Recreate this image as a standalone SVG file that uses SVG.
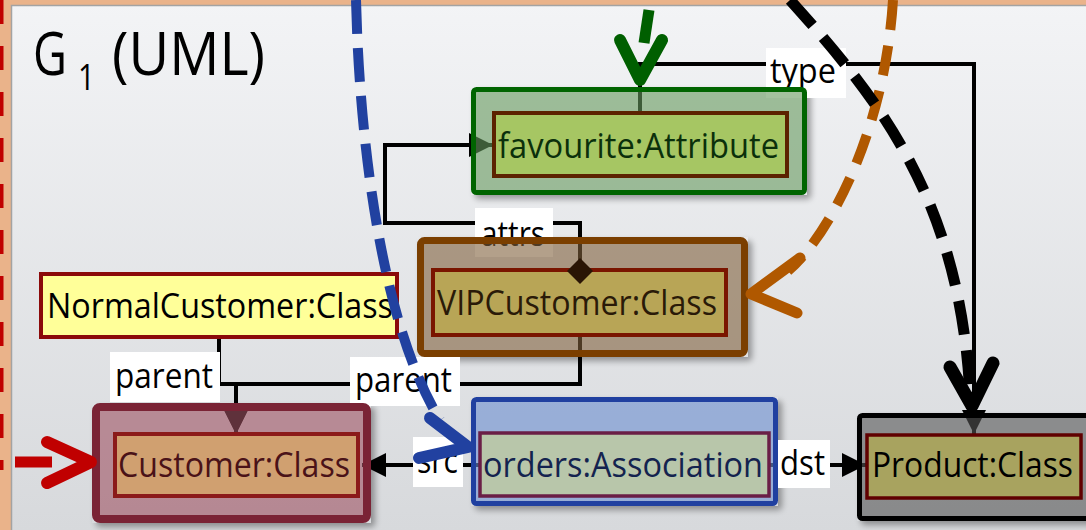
<svg xmlns="http://www.w3.org/2000/svg" width="1086" height="530" viewBox="0 0 1086 530">
<defs>
<linearGradient id="bg" x1="0" y1="0" x2="0" y2="530" gradientUnits="userSpaceOnUse">
<stop offset="0" stop-color="#f3f4f6"/>
<stop offset="1" stop-color="#d7d9dc"/>
</linearGradient>
<filter id="blur" x="-20%" y="-20%" width="140%" height="140%"><feGaussianBlur stdDeviation="3"/></filter>
<marker id="tri" markerUnits="userSpaceOnUse" markerWidth="24" markerHeight="24" viewBox="0 0 24 24" refX="24" refY="12" orient="auto">
<path d="M0,0 L24,12 L0,24 z" fill="#000"/>
</marker>
<clipPath id="cFav"><path clip-rule="evenodd" d="M0,0H1100V540H0Z M471,87H807V195H471Z"/></clipPath>
<clipPath id="cVip"><path clip-rule="evenodd" d="M0,0H1100V540H0Z M417,237H748V357H417Z"/></clipPath>
<clipPath id="cCus"><path clip-rule="evenodd" d="M0,0H1100V540H0Z M92,403H371V523H92Z"/></clipPath>
<clipPath id="cOrd"><path clip-rule="evenodd" d="M0,0H1100V540H0Z M471,397H778V506H471Z"/></clipPath>
<clipPath id="cPro"><path clip-rule="evenodd" d="M0,0H1100V540H0Z M857,413H1100V521H857Z"/></clipPath>
<style>
.t{font-family:"Open Sans","Liberation Sans",sans-serif;font-size:34px;}
.big{font-family:"Open Sans","Liberation Sans",sans-serif;font-size:60px;}
.sub{font-size:36px;}
.conn{fill:none;stroke:#000;stroke-width:4;}
.lbl{fill:#fff;}
.sh{fill:#000;opacity:0.35;filter:url(#blur);}
.map{fill:none;stroke-linecap:butt;}
.chev{fill:none;stroke-linecap:round;stroke-linejoin:round;}
</style>
</defs>

<g id="background">
<rect width="1086" height="530" fill="#eab38a"/>
<rect x="11.5" y="5.5" width="1090" height="540" fill="url(#bg)" stroke="#a3a3a3" stroke-width="1.5"/>
<line x1="-1" y1="0" x2="-1" y2="470" stroke="#c00000" stroke-width="9" stroke-dasharray="24 22"/>
</g>

<g id="title">
<text class="big" x="33" y="75" fill="#000"><tspan textLength="34" lengthAdjust="spacingAndGlyphs">G</tspan><tspan class="sub" dx="11" dy="15" textLength="17" lengthAdjust="spacingAndGlyphs">1</tspan><tspan x="112" y="75" textLength="153" lengthAdjust="spacingAndGlyphs">(UML)</tspan></text>
</g>

<g id="shadows">
<rect class="sh" x="475" y="91" width="336" height="108" rx="4" clip-path="url(#cFav)"/>
<rect class="sh" x="421" y="241" width="331" height="120" rx="4" clip-path="url(#cVip)"/>
<rect class="sh" x="96" y="407" width="279" height="120" rx="4" clip-path="url(#cCus)"/>
<rect class="sh" x="475" y="401" width="307" height="109" rx="4" clip-path="url(#cOrd)"/>
<rect class="sh" x="861" y="417" width="240" height="108" rx="4" clip-path="url(#cPro)"/>
</g>

<g id="connectors">
<path class="conn" d="M580,270 V223 H385 V145 H493" marker-end="url(#tri)"/>
<path class="conn" d="M640,113 V64 H974 V434" marker-end="url(#tri)"/>
<path class="conn" d="M219,339 V384 H236 V434" marker-end="url(#tri)"/>
<path class="conn" d="M580,337 V384 H236 V434" marker-end="url(#tri)"/>
<path class="conn" d="M480,465 H362" marker-end="url(#tri)"/>
<path class="conn" d="M769,465 H866" marker-end="url(#tri)"/>
<rect class="lbl" x="766" y="48" width="80" height="50"/>
<text class="t" x="770" y="83" fill="#000" textLength="66" lengthAdjust="spacingAndGlyphs">type</text>
<rect class="lbl" x="475" y="208" width="78" height="49"/>
<text class="t" x="481" y="246" fill="#000" textLength="64" lengthAdjust="spacingAndGlyphs">attrs</text>
<rect class="lbl" x="110" y="352" width="110" height="50"/>
<text class="t" x="115" y="388" fill="#000" textLength="98" lengthAdjust="spacingAndGlyphs">parent</text>
<rect class="lbl" x="350" y="357" width="110" height="49"/>
<text class="t" x="355" y="392" fill="#000" textLength="97" lengthAdjust="spacingAndGlyphs">parent</text>
<rect class="lbl" x="413" y="437" width="50" height="50"/>
<text class="t" x="417" y="473" fill="#000" textLength="41" lengthAdjust="spacingAndGlyphs">src</text>
<rect class="lbl" x="776" y="440" width="54" height="48"/>
<text class="t" x="780" y="475" fill="#000" textLength="45" lengthAdjust="spacingAndGlyphs">dst</text>
</g>

<g id="node-favourite">
<rect x="473.5" y="89.5" width="331" height="103" rx="3" fill="#669a5e" fill-opacity="0.6" stroke="#006400" stroke-width="5"/>
<rect x="494" y="113" width="293" height="63" fill="#a6c663" stroke="#5c2200" stroke-width="4"/>
<text class="t" x="498" y="158" fill="#0b300b" textLength="281" lengthAdjust="spacingAndGlyphs">favourite:Attribute</text>
</g>

<g id="node-vipcustomer">
<rect x="420.5" y="240.5" width="324" height="113" rx="4" fill="#80603c" fill-opacity="0.6" stroke="#7b3f00" stroke-width="7"/>
<rect x="433" y="270" width="293" height="65" fill="#b8a556" stroke="#7a1500" stroke-width="4"/>
<text class="t" x="437" y="315" fill="#2a1a08" textLength="280" lengthAdjust="spacingAndGlyphs">VIPCustomer:Class</text>
</g>

<g id="node-normalcustomer">
<rect x="41" y="274" width="356" height="63" fill="#ffff99" stroke="#8b0a0a" stroke-width="4"/>
<text class="t" x="47" y="318" fill="#000" textLength="346" lengthAdjust="spacingAndGlyphs">NormalCustomer:Class</text>
</g>

<g id="node-customer">
<rect x="96" y="407" width="271" height="112" rx="4" fill="#9f5162" fill-opacity="0.6" stroke="#7a2335" stroke-width="8"/>
<rect x="115" y="434" width="243" height="62" fill="#d0a070" stroke="#8b1a1a" stroke-width="4"/>
<text class="t" x="118" y="477" fill="#4a1218" textLength="232" lengthAdjust="spacingAndGlyphs">Customer:Class</text>
</g>

<g id="node-orders">
<rect x="473.5" y="399.5" width="302" height="104" rx="3" fill="#6b8ed0" fill-opacity="0.6" stroke="#2040a0" stroke-width="5"/>
<rect x="480" y="433" width="289" height="63" fill="#b8c6aa" stroke="#6a1e46" stroke-width="3.5"/>
<text class="t" x="483" y="477" fill="#14234f" textLength="280" lengthAdjust="spacingAndGlyphs">orders:Association</text>
</g>

<g id="node-product">
<rect x="859.5" y="415.5" width="240" height="103" rx="3" fill="#555555" fill-opacity="0.6" stroke="#000" stroke-width="5"/>
<rect x="867" y="435" width="214" height="63" fill="#a8a35f" stroke="#600000" stroke-width="3.5"/>
<text class="t" x="872" y="477" fill="#000" textLength="201" lengthAdjust="spacingAndGlyphs">Product:Class</text>
</g>

<g id="connector-decorations">
<polygon points="580,258 593,271 580,284 567,271" fill="#2a1505"/>
</g>

<g id="mappings">
<path class="map" d="M356,0 C360,160 385,330 440,420" stroke="#2141a0" stroke-width="10" stroke-dasharray="34 14"/>
<path class="chev" d="M430,418 L468,447 L419,458" stroke="#2141a0" stroke-width="12"/>
<line x1="649" y1="10" x2="644" y2="43" stroke="#005f00" stroke-width="11"/>
<path class="chev" d="M620,40 L640,80 L662,40" stroke="#005f00" stroke-width="12"/>
<path class="map" d="M893,0 C885,130 830,235 788,271" stroke="#b05800" stroke-width="10" stroke-dasharray="30 16"/>
<path class="chev" d="M800,258 L751,294 L797,313" stroke="#b05800" stroke-width="11"/>
<path class="map" d="M790,0 C880,100 960,200 970,395" stroke="#000" stroke-width="11" stroke-dasharray="34 16"/>
<path class="chev" d="M950,367 L972,406 L993,363" stroke="#000" stroke-width="13"/>
<line x1="15" y1="462" x2="52" y2="462" stroke="#c00000" stroke-width="11"/>
<path class="chev" d="M47,442 L91,462 L47,483" stroke="#c00000" stroke-width="12"/>
</g>
</svg>
